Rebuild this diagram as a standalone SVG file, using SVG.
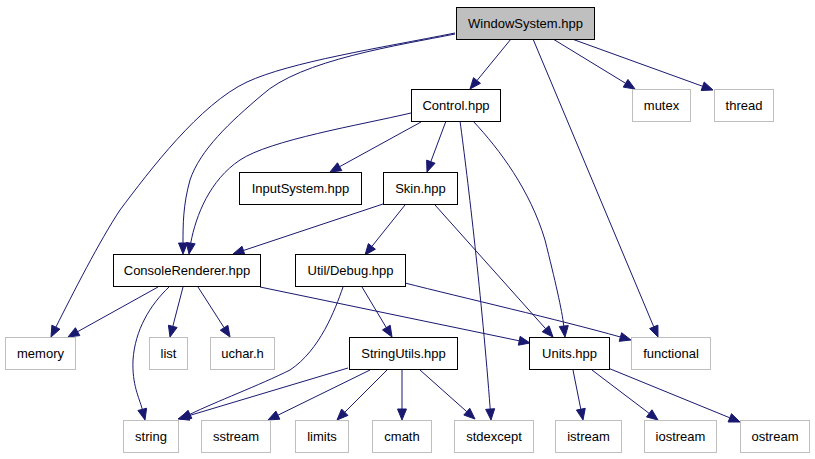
<svg xmlns="http://www.w3.org/2000/svg" width="815" height="459" viewBox="0 0 815 459">
<style>
.n rect{fill:#fff;stroke:#000;stroke-width:1}
.g rect{fill:#fff;stroke:#bfbfbf;stroke-width:1}
text{font-family:"Liberation Sans",Arial,sans-serif;font-size:13px;text-anchor:middle;fill:#000}
#edges path{fill:none;stroke:#191970;stroke-width:1}
#edges polygon{fill:#191970;stroke:#191970;stroke-width:1;stroke-linejoin:miter}
</style>
<rect width="815" height="459" fill="#fff"/>
<g id="edges">
<path d="M511,39 L477,80.5"/><polygon points="470,89 473.5,77.65 480.45,83.35"/>
<path d="M553,39 L625.6,83.3"/><polygon points="635,89 623.27,87.11 627.95,79.43"/>
<path d="M572,39 L702.7,86.3"/><polygon points="713,90 701.13,90.49 704.19,82.03"/>
<path d="M533,39 L653.8,326.9"/><polygon points="658,337 649.6,328.6 657.9,325.12"/>
<path d="M455,33 C380,48 290,62 247,82 C200,104 150,170 120,210 C100,240 72,295 55.9,327.1"/><polygon points="51,337 51.87,325.14 59.93,329.14"/>
<path d="M455,34 C400,45 300,60 262,95 C230,122 200,150 190,180 C183,205 183,225 183,243"/><polygon points="183,254 178.5,243 187.5,243"/>
<path d="M411,113 C360,125 270,140 240,160 C210,180 196,215 190.7,243.1"/><polygon points="189,254 186.22,242.45 195.12,243.81"/>
<path d="M421,122 L339.6,166.7"/><polygon points="330,172 337.47,162.76 341.81,170.64"/>
<path d="M446,121 L430.8,161.7"/><polygon points="427,172 426.62,160.12 435.06,163.26"/>
<path d="M460,121 C468,180 482,300 490.2,409"/><polygon points="491,420 485.69,409.37 494.67,408.69"/>
<path d="M473,121 C500,150 530,190 545,240 C555,280 562,310 563.8,326.1"/><polygon points="565,337 559.32,326.57 568.26,325.57"/>
<path d="M383,204 L243.4,250.5"/><polygon points="233,254 242.02,246.25 244.86,254.79"/>
<path d="M405,205 L371.9,246.4"/><polygon points="365,255 368.36,243.6 375.38,249.22"/>
<path d="M435,205 L545.7,328.8"/><polygon points="553,337 542.31,331.79 549.03,325.79"/>
<path d="M158,287 L77.6,331.7"/><polygon points="68,337 75.42,327.72 79.8,335.58"/>
<path d="M183,287 L172.8,326.4"/><polygon points="170,337 168.41,325.22 177.13,327.48"/>
<path d="M198,287 L224.1,327.7"/><polygon points="230,337 220.28,330.17 227.86,325.31"/>
<path d="M169,287 C150,305 135,330 133,360 C132,385 139,397 142.3,409.4"/><polygon points="145,420 137.9,410.49 146.6,408.21"/>
<path d="M260,287 L519.2,340.8"/><polygon points="530,343 518.32,345.18 520.14,336.36"/>
<path d="M405,283 C460,297 560,320 620.4,337"/><polygon points="631,340 619.19,341.35 621.63,332.69"/>
<path d="M362,287 L386.3,327.6"/><polygon points="392,337 382.48,329.88 390.2,325.26"/>
<path d="M343,287 C335,310 320,350 290,370 C260,385 215,402 190,414.3"/><polygon points="180,419 188.07,410.27 191.87,418.43"/>
<path d="M348,368 L188.5,415.8"/><polygon points="178,419 187.25,411.53 189.83,420.15"/>
<path d="M370,370 L277.9,415.2"/><polygon points="268,420 275.9,411.12 279.86,419.2"/>
<path d="M387,370 L344.8,412.2"/><polygon points="337,420 341.6,409.04 347.96,415.4"/>
<path d="M402,370 L402,409"/><polygon points="402,420 397.5,409 406.5,409"/>
<path d="M420,370 L466.8,411.7"/><polygon points="475,419 463.79,415.04 469.77,408.32"/>
<path d="M573,370 L580.8,409.2"/><polygon points="583,420 576.43,410.09 585.25,408.33"/>
<path d="M592,370 L649.2,413.4"/><polygon points="658,420 646.51,416.95 651.95,409.77"/>
<path d="M608,368 L729.8,417.8"/><polygon points="740,422 728.1,422 731.52,413.66"/>
</g>
<g id="WindowSystem" class="n"><rect x="456.5" y="7.5" width="138" height="32" style="fill:#bfbfbf"/><text x="525.5" y="27.5">WindowSystem.hpp</text></g>
<g id="Control" class="n"><rect x="411.5" y="89.5" width="89" height="32"/><text x="456" y="109.5">Control.hpp</text></g>
<g id="mutex" class="g"><rect x="632.5" y="89.5" width="58" height="32"/><text x="661.5" y="109.5">mutex</text></g>
<g id="thread" class="g"><rect x="714.5" y="89.5" width="59" height="32"/><text x="744" y="109.5">thread</text></g>
<g id="InputSystem" class="n"><rect x="239.5" y="172.5" width="122" height="32"/><text x="300.5" y="192.5">InputSystem.hpp</text></g>
<g id="Skin" class="n"><rect x="383.5" y="172.5" width="74" height="32"/><text x="420.5" y="192.5">Skin.hpp</text></g>
<g id="ConsoleRenderer" class="n"><rect x="113.5" y="254.5" width="147" height="32"/><text x="187" y="274.5">ConsoleRenderer.hpp</text></g>
<g id="UtilDebug" class="n"><rect x="295.5" y="254.5" width="110" height="32"/><text x="350.5" y="274.5">Util/Debug.hpp</text></g>
<g id="memory" class="g"><rect x="5.5" y="337.5" width="70" height="32"/><text x="40.5" y="357.5">memory</text></g>
<g id="list" class="g"><rect x="149.5" y="337.5" width="38" height="32"/><text x="168.5" y="357.5">list</text></g>
<g id="uchar" class="g"><rect x="210.5" y="337.5" width="64" height="32"/><text x="242.5" y="357.5">uchar.h</text></g>
<g id="StringUtils" class="n"><rect x="349.5" y="337.5" width="108" height="32"/><text x="403.5" y="357.5">StringUtils.hpp</text></g>
<g id="Units" class="n"><rect x="529.5" y="337.5" width="80" height="32"/><text x="569.5" y="357.5">Units.hpp</text></g>
<g id="functional" class="g"><rect x="631.5" y="337.5" width="79" height="32"/><text x="671" y="357.5">functional</text></g>
<g id="string" class="g"><rect x="123.5" y="420.5" width="55" height="32"/><text x="151" y="440.5">string</text></g>
<g id="sstream" class="g"><rect x="201.5" y="420.5" width="69" height="32"/><text x="236" y="440.5">sstream</text></g>
<g id="limits" class="g"><rect x="295.5" y="420.5" width="53" height="32"/><text x="322" y="440.5">limits</text></g>
<g id="cmath" class="g"><rect x="372.5" y="420.5" width="59" height="32"/><text x="402" y="440.5">cmath</text></g>
<g id="stdexcept" class="g"><rect x="454.5" y="420.5" width="79" height="32"/><text x="494" y="440.5">stdexcept</text></g>
<g id="istream" class="g"><rect x="555.5" y="420.5" width="66" height="32"/><text x="588.5" y="440.5">istream</text></g>
<g id="iostream" class="g"><rect x="644.5" y="420.5" width="72" height="32"/><text x="680.5" y="440.5">iostream</text></g>
<g id="ostream" class="g"><rect x="740.5" y="420.5" width="69" height="32"/><text x="775" y="440.5">ostream</text></g>
</svg>
